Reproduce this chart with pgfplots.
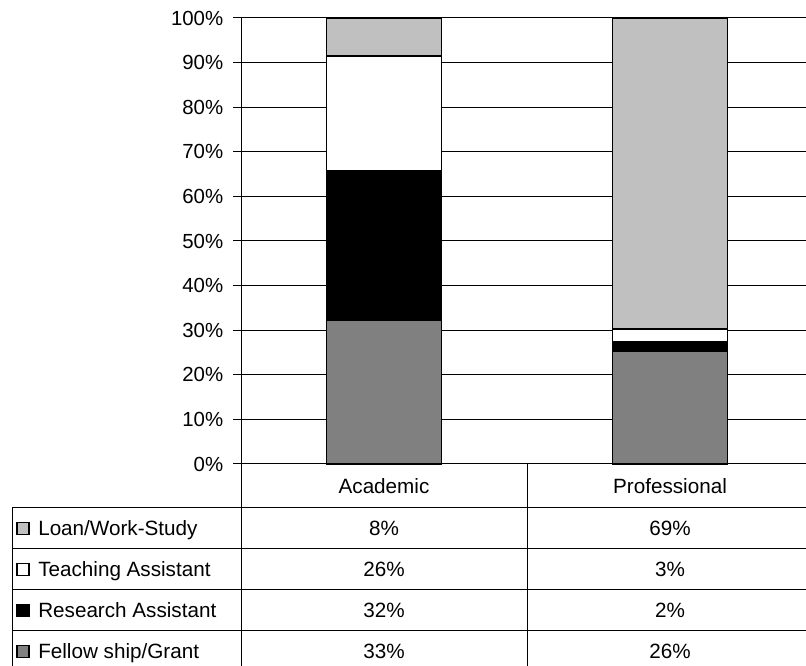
\documentclass[border=0pt]{standalone}
\usepackage{fontspec}
\setmainfont{Liberation Sans}
\usepackage{pgfplots}
\pgfplotsset{compat=1.18}

\definecolor{loan}{HTML}{C0C0C0}
\definecolor{fell}{HTML}{808080}

\begin{document}
\fontsize{15.5}{18}\selectfont
\begin{tikzpicture}[x=0.75pt,y=0.75pt,
  cell/.style={inner sep=0pt, text height=11.1pt, text depth=0pt, anchor=center},
  lab/.style={inner sep=0pt, text height=11.1pt, text depth=0pt, anchor=west}]
\path[use as bounding box] (0,0) rectangle (806,666);
\clip (0,0) rectangle (806,666);
\begin{axis}[
    at={(180.75pt,151.5pt)}, anchor=south west,
    scale only axis, width=429pt, height=334.5pt,
    xmin=0, xmax=2, ymin=0, ymax=100,
    ybar stacked, bar width=86.25pt,
    axis x line=bottom, axis y line=left,
    axis line style={-, black, line width=0.75pt},
    xtick=\empty, ytick={0,10,...,100},
    yticklabel={\pgfmathprintnumber{\tick}\%},
    /pgf/number format/assume math mode=true,
    tick align=outside, major tick length=6pt,
    tick style={black, line width=0.75pt},
    ymajorgrids, grid style={black, line width=0.75pt},
    ticklabel style={font=\fontsize{15.3}{18}\selectfont},
    yticklabel style={xshift=-2pt},
    clip=false,
]
% bottom to top: Fellowship/Grant, Research Assistant, Teaching Assistant, Loan/Work-Study
\addplot[fill=fell, draw=black, line width=1.4pt] coordinates {(0.5,32.3) (1.5,25.3)};
\addplot[fill=black, draw=black, line width=1.4pt] coordinates {(0.5,33.3) (1.5,2.1)};
\addplot[fill=white, draw=black, line width=1.4pt] coordinates {(0.5,25.9) (1.5,2.9)};
\addplot[fill=loan, draw=black, line width=1.4pt] coordinates {(0.5,8.5) (1.5,69.7)};
\end{axis}

% data table under the chart
\begin{scope}[line width=0.75pt, draw=black]
\draw (241,202) -- (241,0);
\draw (527,202) -- (527,0);
\draw (813,202) -- (813,0);
\draw (12,158) -- (12,0);
\foreach \yy in {158,117,76,35} \draw (12,\yy) -- (813,\yy);
\end{scope}

\node[cell] at (384,180) {Academic};
\node[cell] at (670,180) {Professional};

\foreach \yy/\nm/\fc/\a/\p in {137.5/Loan\slash Work-Study/loan/8\%/69\%,
                               96.5/Teaching Assistant/white/26\%/3\%,
                               55.5/Research Assistant/black/32\%/2\%,
                               14.5/Fellow ship\slash Grant/fell/33\%/26\%}{
  \filldraw[fill=\fc, draw=black, line width=0.9pt] (17,\yy-6) rectangle (29,\yy+6);
  \node[lab] at (38,\yy) {\nm};
  \node[cell] at (384,\yy) {\a};
  \node[cell] at (670,\yy) {\p};
}
\end{tikzpicture}
\end{document}
